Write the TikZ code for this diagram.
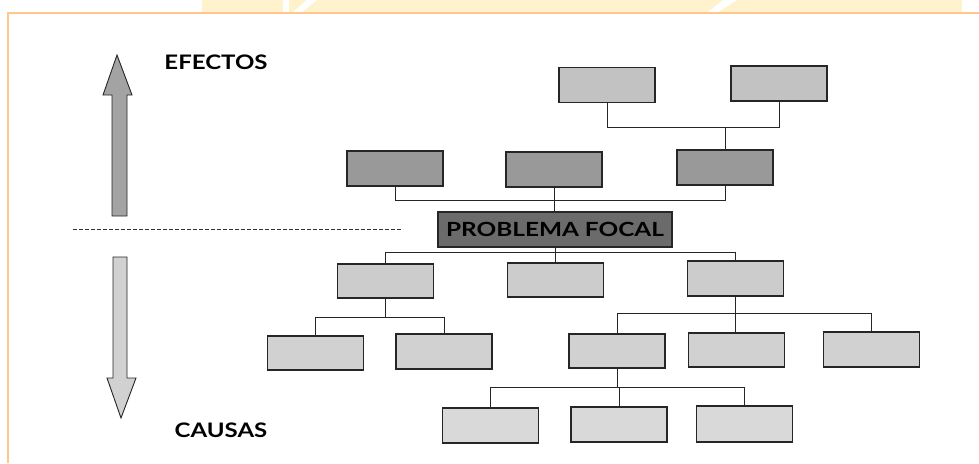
\documentclass[tikz,border=0pt]{standalone}
\usepackage{fontspec}
\setmainfont{Lato}
\definecolor{frameorange}{RGB}{255,198,142}
\definecolor{bandyellow}{RGB}{255,242,204}
\begin{document}
\begin{tikzpicture}[x=1pt,y=-1pt,
  box/.style={draw=black!85, line width=1.1pt, minimum width=96pt, minimum height=35pt, inner sep=0pt, anchor=center},
  effA/.style={box, fill=black!24},
  effB/.style={box, fill=black!40},
  cauA/.style={box, fill=black!20},
  cauB/.style={box, fill=black!18},
  cauC/.style={box, fill=black!15},
  focal/.style={box, fill=black!58, minimum width=234pt, font=\bfseries\fontsize{19.5}{19.5}\selectfont},
  lbl/.style={font=\bfseries\fontsize{20}{20}\selectfont, inner sep=0pt},
  conn/.style={draw=black!85, line width=0.9pt},
  framecol/.style={draw=frameorange, line width=2pt}
]
\useasboundingbox (0,0) rectangle (979,463);
% top band
\fill[bandyellow] (202,0) rectangle (962,12);
\fill[white] (283,0) -- (289,0) -- (289,12) -- (283,12) -- cycle;
\fill[white] (293,12) -- (302,12) -- (317,0) -- (307,0) -- cycle;
\fill[white] (708,12) -- (718,12) -- (737,0) -- (723,0) -- cycle;
\draw[framecol] (7,13) -- (979,13);
\draw[framecol] (8,13) -- (8,463);

% arrows
\filldraw[fill=black!36, draw=black!85, line width=0.9pt]
  (112,216) -- (112,95) -- (103,95) -- (117,55) -- (132,95) -- (127,95) -- (127,216) -- cycle;
\filldraw[fill=black!18, draw=black!85, line width=0.9pt]
  (113,257) -- (127,257) -- (127,378) -- (136,378) -- (121,418) -- (107,378) -- (113,378) -- cycle;

% labels
\node[lbl] (efectos) at (216,62) {\scalebox{1.2}[1]{EFECTOS}};
\node[lbl] (causas) at (221,430) {\scalebox{1.2}[1]{CAUSAS}};

% dashed
\coordinate (dl) at (73,229);
\coordinate (dr) at (402,229);
\draw[black!80, line width=0.8pt, dash pattern=on 3.5pt off 2.5pt] (dl) -- (dr);

% boxes
\node[effA] (e1) at (607,85) {};
\node[effA] (e2) at (779,83.5) {};
\node[effB] (d1) at (395,168.5) {};
\node[effB] (d2) at (554,169.5) {};
\node[effB] (d3) at (725,167.5) {};
\node[focal] (pf) at (555,229.5) {\scalebox{1.25}[1]{PROBLEMA FOCAL}};
\node[cauA, minimum height=34pt] (c1) at (385.5,281) {};
\node[cauA, minimum height=34pt] (c2) at (555.5,280) {};
\node[cauA] (c3) at (735.5,278.5) {};
\node[cauB, minimum height=34pt] (f1) at (315.5,353) {};
\node[cauB] (f2) at (444,351.5) {};
\node[cauB, minimum height=34pt] (f3) at (617,351) {};
\node[cauB, minimum height=34pt] (f4) at (736.5,350) {};
\node[cauB] (f5) at (871.5,349.5) {};
\node[cauC] (g1) at (490.5,425.5) {};
\node[cauC] (g2) at (619,424.5) {};
\node[cauC, minimum height=36pt] (g3) at (744.5,424) {};

% bus levels
\coordinate (b1) at (0,127);
\coordinate (b2) at (0,200);
\coordinate (b3) at (0,252.5);
\coordinate (b4) at (0,317);
\coordinate (b5) at (0,313);
\coordinate (b6) at (0,387);

\draw[conn] (e1.south) -- (e1.south |- b1) -- (e2.south |- b1) -- (e2.south);
\draw[conn] (d3.north) -- (d3.north |- b1);
\draw[conn] (d1.south) -- (d1.south |- b2) -- (d3.south |- b2) -- (d3.south);
\draw[conn] (d2.south) -- (d2.south |- pf.north);
\draw[conn] (c1.north) -- (c1.north |- b3) -- (c3.north |- b3) -- (c3.north);
\draw[conn] (pf.south) -- (pf.south |- c2.north);
\draw[conn] (c1.south) -- (c1.south |- b4);
\draw[conn] (f1.north) -- (f1.north |- b4) -- (f2.north |- b4) -- (f2.north);
\draw[conn] (f3.north) -- (f3.north |- b5) -- (f5.north |- b5) -- (f5.north);
\draw[conn] (c3.south) -- (c3.south |- f4.north);
\draw[conn] (f3.south) -- (f3.south |- b6);
\draw[conn] (g1.north) -- (g1.north |- b6) -- (g3.north |- b6) -- (g3.north);
\draw[conn] (g2.north) -- (g2.north |- b6);
\end{tikzpicture}
\end{document}
